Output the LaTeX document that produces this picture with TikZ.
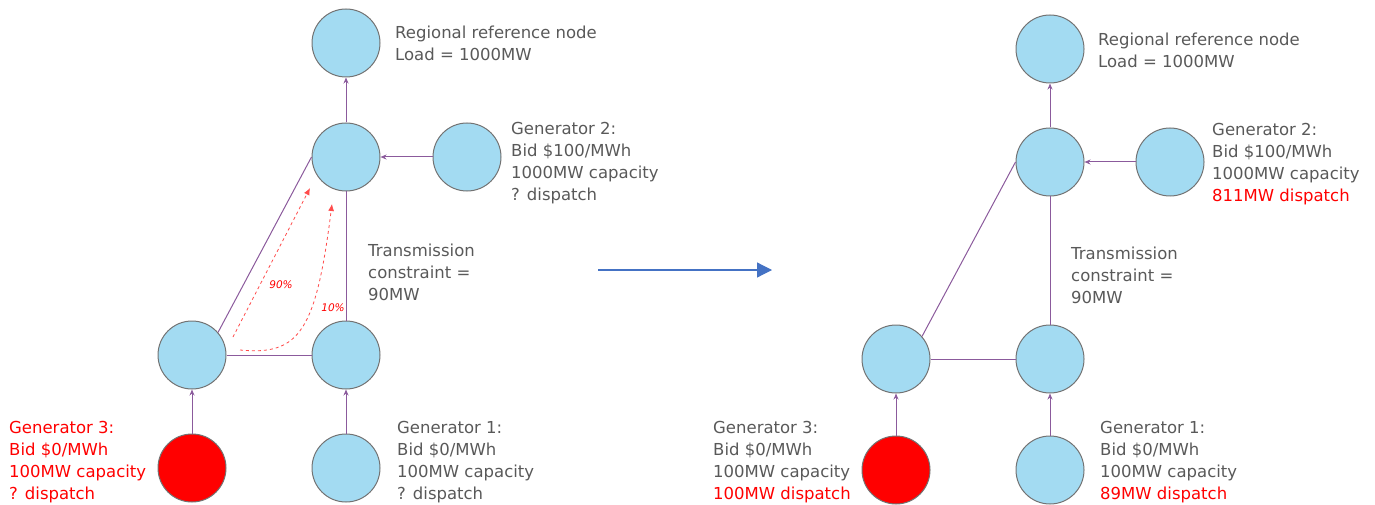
\documentclass[tikz,border=0pt]{standalone}
\usepackage{fontspec}
\setmainfont{DejaVu Sans}
\usetikzlibrary{arrows.meta}

\definecolor{busblue}{HTML}{A3DBF2}
\definecolor{edgepurple}{HTML}{8B5A9C}
\definecolor{txtgray}{HTML}{595959}
\definecolor{flowred}{HTML}{FF4B4B}
\definecolor{bigarrow}{HTML}{4472C4}

\tikzset{
  bus/.style={circle, draw=gray!90!black, fill=busblue, minimum size=68pt, inner sep=0pt, line width=1pt},
  genred/.style={bus, fill=red},
  line/.style={draw=edgepurple, line width=1pt},
  feed/.style={line, -{Stealth[length=6pt,width=5pt]}},
  info/.style={anchor=west, align=left, text=txtgray, font=\fontsize{16.5}{22}\selectfont, inner sep=0pt},
  flow/.style={draw=flowred, dashed, line width=0.8pt, -{Latex[length=7pt,width=6pt]}},
  pct/.style={text=red, font=\fontsize{10.5}{12}\selectfont\itshape, inner sep=0pt}
}

\begin{document}
\begin{tikzpicture}[x=1pt,y=-1pt]
\useasboundingbox (0,0) rectangle (1375,505);

% left network, before dispatch
\node[bus] (refL) at (346,43) {};
\node[bus] (hubL) at (346,157) {};
\node[bus] (gentwoL) at (467,157) {};
\node[bus] (westL) at (192,355) {};
\node[bus] (eastL) at (346,355) {};
\node[genred] (genthreeL) at (192,468) {};
\node[bus] (genoneL) at (346,468) {};

\draw[feed] (hubL) -- (refL);
\draw[feed] (gentwoL) -- (hubL);
\draw[line] (hubL) -- (eastL);
\draw[line] (westL) -- (eastL);
\draw[line] (westL.41) -- (hubL.west);
\draw[feed] (genthreeL) -- (westL);
\draw[feed] (genoneL) -- (eastL);

\coordinate (fastart) at (233,337);
\coordinate (faend) at (310,188);
\coordinate (fbstart) at (240,350);
\coordinate (fbend) at (332,204);
\draw[flow] (fastart) -- (faend);
\draw[flow] (fbstart) .. controls (300,356) and (316,330) .. (fbend);
\node[pct] (ninety) at (281,285) {90\%};
\node[pct] (ten) at (333,308) {10\%};

\node[info] (refLtxt) at (395,43) {Regional reference node\\Load = 1000MW};
\node[info] (gentwoLtxt) at (511,163) {Generator 2:\\Bid \$100/MWh\\1000MW capacity\\? dispatch};
\node[info] (limitLtxt) at (368,272) {Transmission\\constraint =\\90MW};
\node[info] (genoneLtxt) at (397,462) {Generator 1:\\Bid \$0/MWh\\100MW capacity\\? dispatch};
\node[info, text=red] (genthreeLtxt) at (9,462) {Generator 3:\\Bid \$0/MWh\\100MW capacity\\? dispatch};

% arrow between the two states
\coordinate (shiftfrom) at (598,270);
\coordinate (shiftto) at (772,270);
\draw[draw=bigarrow, line width=1.2pt, -{Triangle[length=15pt,width=15pt]}] (shiftfrom) -- (shiftto);

% right network, after dispatch
\node[bus] (refR) at (1050,49) {};
\node[bus] (hubR) at (1050,162) {};
\node[bus] (gentwoR) at (1170,162) {};
\node[bus] (westR) at (896,359) {};
\node[bus] (eastR) at (1050,359) {};
\node[genred] (genthreeR) at (896,470) {};
\node[bus] (genoneR) at (1050,470) {};

\draw[feed] (hubR) -- (refR);
\draw[feed] (gentwoR) -- (hubR);
\draw[line] (hubR) -- (eastR);
\draw[line] (westR) -- (eastR);
\draw[line] (westR.41) -- (hubR.west);
\draw[feed] (genthreeR) -- (westR);
\draw[feed] (genoneR) -- (eastR);

\node[info] (refRtxt) at (1098,50) {Regional reference node\\Load = 1000MW};
\node[info] (gentwoRtxt) at (1212,164) {Generator 2:\\Bid \$100/MWh\\1000MW capacity\\\textcolor{red}{811MW dispatch}};
\node[info] (limitRtxt) at (1071,275) {Transmission\\constraint =\\90MW};
\node[info] (genoneRtxt) at (1100,462) {Generator 1:\\Bid \$0/MWh\\100MW capacity\\\textcolor{red}{89MW dispatch}};
\node[info] (genthreeRtxt) at (713,462) {Generator 3:\\Bid \$0/MWh\\100MW capacity\\\textcolor{red}{100MW dispatch}};
\end{tikzpicture}
\end{document}
